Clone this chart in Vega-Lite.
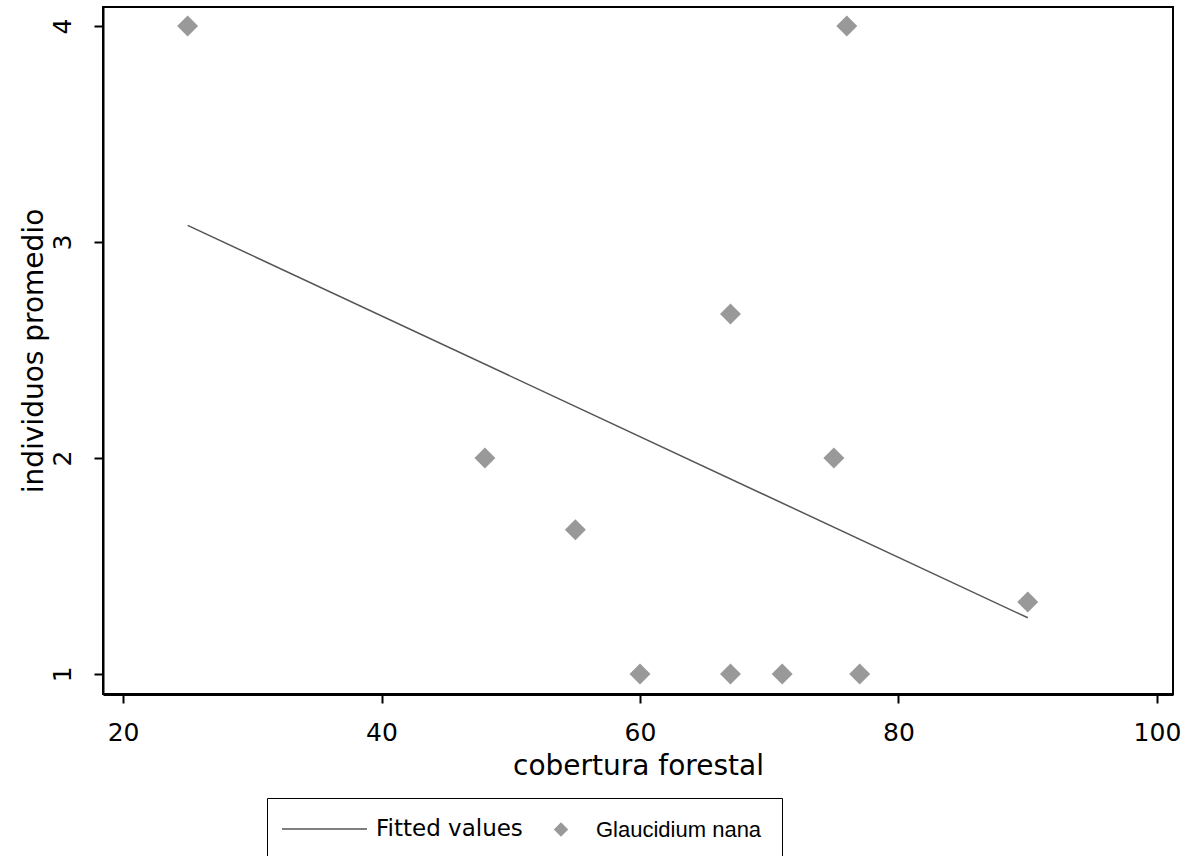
{
  "$schema": "https://vega.github.io/schema/vega-lite/v6.json",
  "width": 1070,
  "height": 687,
  "autosize": {"type": "none"},
  "padding": {"left": 103, "top": 7, "right": 13, "bottom": 162},
  "background": "white",
  "config": {
    "view": {"stroke": "black", "strokeWidth": 2},
    "axis": {
      "grid": false,
      "domainColor": "black",
      "tickColor": "black",
      "labelColor": "black",
      "titleColor": "black",
      "labelFont": "DejaVu Sans",
      "titleFont": "DejaVu Sans",
      "titleFontWeight": "normal"
    }
  },
  "datasets": {
    "pts": [
      {"cobertura": 25, "individuos": 4, "serie": "Glaucidium nana"},
      {"cobertura": 76, "individuos": 4, "serie": "Glaucidium nana"},
      {"cobertura": 67, "individuos": 2.667, "serie": "Glaucidium nana"},
      {"cobertura": 48, "individuos": 2, "serie": "Glaucidium nana"},
      {"cobertura": 75, "individuos": 2, "serie": "Glaucidium nana"},
      {"cobertura": 55, "individuos": 1.667, "serie": "Glaucidium nana"},
      {"cobertura": 90, "individuos": 1.333, "serie": "Glaucidium nana"},
      {"cobertura": 60, "individuos": 1, "serie": "Glaucidium nana"},
      {"cobertura": 67, "individuos": 1, "serie": "Glaucidium nana"},
      {"cobertura": 71, "individuos": 1, "serie": "Glaucidium nana"},
      {"cobertura": 77, "individuos": 1, "serie": "Glaucidium nana"}
    ],
    "fit": [
      {"cobertura": 25, "individuos": 3.077, "serie": "Fitted values"},
      {"cobertura": 90, "individuos": 1.26, "serie": "Fitted values"}
    ]
  },
  "encoding": {
    "x": {
      "field": "cobertura", "type": "quantitative",
      "scale": {"domain": [18.45, 101.24], "nice": false, "zero": false},
      "axis": {
        "title": "cobertura forestal",
        "values": [20, 40, 60, 80, 100],
        "domainWidth": 3,
        "tickSize": 9,
        "tickWidth": 2,
        "labelFontSize": 25,
        "labelPadding": 17,
        "titleFontSize": 28,
        "titlePadding": 7
      }
    },
    "y": {
      "field": "individuos", "type": "quantitative",
      "scale": {"domain": [0.907, 4.088], "nice": false, "zero": false},
      "axis": {
        "title": "individuos promedio",
        "values": [1, 2, 3, 4],
        "domainWidth": 2,
        "tickSize": 9,
        "tickWidth": 2,
        "labelAngle": -90,
        "labelAlign": "center",
        "labelBaseline": "bottom",
        "labelFontSize": 25,
        "labelPadding": 19,
        "titleFontSize": 28,
        "titlePadding": 2
      }
    },
    "color": {
      "field": "serie", "type": "nominal",
      "scale": {"domain": ["Fitted values", "Glaucidium nana"], "range": ["#555555", "#999999"]},
      "legend": {
        "title": null,
        "orient": "none",
        "legendX": 164,
        "legendY": 791,
        "direction": "horizontal",
        "columns": 2,
        "strokeColor": "black",
        "padding": 20,
        "columnPadding": 27,
        "labelFontSize": 22,
        "labelLimit": 400,
        "labelColor": "black",
        "symbolSize": 150,
        "labelOffset": 14,
        "encode": {
          "symbols": {
            "update": {
              "shape": {"signal": "datum.value === 'Fitted values' ? 'M-1.6,0H6.9' : 'diamond'"},
              "size": {"signal": "datum.value === 'Fitted values' ? 400 : 150"},
              "fill": {"signal": "datum.value === 'Fitted values' ? 'transparent' : '#999999'"},
              "stroke": {"signal": "datum.value === 'Fitted values' ? '#666666' : 'transparent'"},
              "strokeWidth": {"value": 1.5},
              "opacity": {"value": 1}
            }
          },
          "labels": {
            "update": {
              "font": {"signal": "datum.value === 'Fitted values' ? 'DejaVu Sans' : 'Liberation Sans'"},
              "fontSize": {"signal": "datum.value === 'Fitted values' ? 23 : 22"},
              "dx": {"signal": "datum.value === 'Fitted values' ? 53 : 10"}
            }
          }
        }
      }
    }
  },
  "layer": [
    {
      "data": {"name": "fit"},
      "mark": {"type": "line", "strokeWidth": 1.5}
    },
    {
      "data": {"name": "pts"},
      "mark": {"type": "point", "shape": "diamond", "filled": true, "size": 440, "opacity": 1}
    }
  ]
}
